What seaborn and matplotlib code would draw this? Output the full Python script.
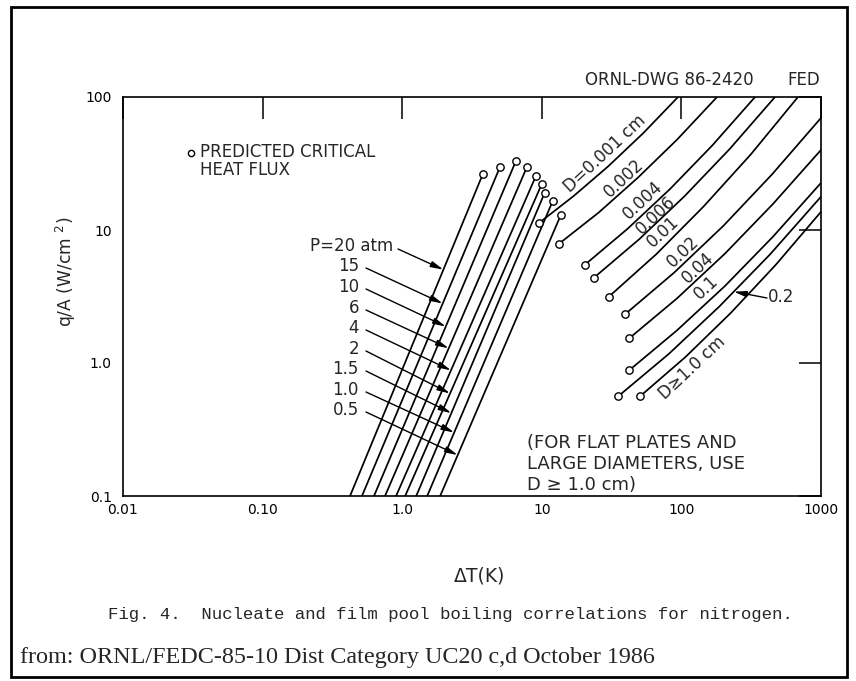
import matplotlib
matplotlib.use('Agg')
import numpy as np
import pandas as pd
import matplotlib.pyplot as plt
import seaborn as sns
from matplotlib.patches import Rectangle
from matplotlib.lines import Line2D
from matplotlib.ticker import FixedLocator, FixedFormatter, NullLocator

W, H = 856, 681

# nucleate boiling: one straight line per pressure (atm)
pressures = ['20', '15', '10', '6', '4', '2', '1.5', '1.0', '0.5']
nuc_dt_low = [0.423, 0.515, 0.628, 0.753, 0.904, 1.05, 1.26, 1.51, 1.87]  # dT at q/A = 0.1
nuc_q_low = 0.1
chf_dt = [3.79, 5.02, 6.53, 7.83, 9.08, 10.0, 10.5, 12.0, 13.7]
chf_q = [26.5, 29.8, 33.1, 29.8, 25.5, 22.2, 19.1, 16.6, 13.0]
arrow_q = [5.03, 2.80, 1.88, 1.29, 0.88, 0.59, 0.42, 0.30, 0.203]

# film boiling: one curve per diameter (cm)
film_labels = ['0.001', '0.002', '0.004', '0.006', '0.01', '0.02', '0.04', '0.1', '0.2', '1.0']
film_dt = [
    [9.55, 16.9, 30.0, 53.3, 94.6],
    [13.3, 25.5, 48.9, 93.8, 180],
    [20.4, 41.1, 82.8, 167, 337],
    [23.7, 49.9, 105, 222, 468],
    [30.3, 66.1, 144, 314, 684],
    [39.4, 88.5, 199, 446, 1000],
    [42.2, 93.0, 205, 453, 1000],
    [42.2, 93.0, 205, 453, 1000],
    [35.2, 81.2, 187, 433, 1000],
    [50.5, 107, 225, 474, 1000],
]
film_q = [
    [11.3, 18.0, 30.2, 53.5, 100],
    [7.89, 13.5, 24.8, 48.2, 100],
    [5.49, 10.2, 20.3, 43.4, 100],
    [4.39, 8.53, 17.9, 40.7, 100],
    [3.16, 6.58, 15.0, 37.0, 100],
    [2.32, 4.77, 10.7, 26.2, 69.6],
    [1.53, 3.06, 6.64, 15.7, 40.0],
    [0.88, 1.76, 3.79, 8.91, 22.6],
    [0.561, 1.17, 2.66, 6.58, 17.8],
    [0.561, 1.11, 2.37, 5.47, 13.7],
]
arrow_q_02 = 3.44  # where the "0.2" arrow meets its curve

x_ticks = [0.01, 0.1, 1, 10, 100, 1000]
x_ticklabels = ['0.01', '0.10', '1.0', '10', '100', '1000']
y_ticks = [0.1, 1, 10, 100]
y_ticklabels = ['0.1', '1.0', '10', '100']


def fxy(px, py):
    # pixel position -> figure fraction
    return px / W, 1 - py / H


rows = []
for p, d0, d1, q1 in zip(pressures, nuc_dt_low, chf_dt, chf_q):
    rows.append(('P' + p, d0, nuc_q_low))
    rows.append(('P' + p, d1, q1))
for lab, dts, qs in zip(film_labels, film_dt, film_q):
    for d, q in zip(dts, qs):
        rows.append(('D' + lab, d, q))
df = pd.DataFrame(rows, columns=['curve', 'dT', 'q'])

circles = pd.DataFrame({
    'dT': chf_dt + [d[0] for d in film_dt],
    'q': chf_q + [q[0] for q in film_q],
})

sns.set_style('white')
plt.rcParams['font.family'] = ['DejaVu Sans']

fig = plt.figure(figsize=(W / 100, H / 100), dpi=100)
ax = fig.add_axes([123 / W, 1 - 496 / H, 698 / W, 399 / H])
ax.set_xscale('log')
ax.set_yscale('log')

sns.lineplot(data=df, x='dT', y='q', units='curve', estimator=None, sort=False,
             color='black', lw=1.25, ax=ax)
sns.scatterplot(data=circles, x='dT', y='q', marker='o', s=28, color='white',
                edgecolor='black', linewidth=1.0, zorder=4, ax=ax)

ax.set_xlim(0.01, 1000)
ax.set_ylim(0.1, 100)
ax.xaxis.set_major_locator(FixedLocator(x_ticks))
ax.xaxis.set_major_formatter(FixedFormatter(x_ticklabels))
ax.yaxis.set_major_locator(FixedLocator(y_ticks))
ax.yaxis.set_major_formatter(FixedFormatter(y_ticklabels))
ax.xaxis.set_minor_locator(NullLocator())
ax.yaxis.set_minor_locator(NullLocator())
ax.tick_params(direction='in', length=15.5, width=1.1, top=True, right=True,
               labelsize=10, colors='black')
ax.tick_params(axis='x', pad=5)
ax.tick_params(axis='y', pad=8)
for s in ax.spines.values():
    s.set_linewidth(1.2)
    s.set_color('black')

ax.set_xlabel('ΔT(K)', fontsize=13.5)
ax.xaxis.set_label_coords(0.511, -0.176)
ax.set_ylabel('q/A (W/cm $^{2}$)', fontsize=12.3, labelpad=0)
ax.yaxis.set_label_coords(-0.064, 0.563)

# legend for circles
fig.add_artist(Line2D([191 / W], [1 - 153 / H], marker='o', ms=4.5, mfc='white',
                      mec='black', mew=1, transform=fig.transFigure))
fig.text(*fxy(200, 161), 'PREDICTED CRITICAL\nHEAT FLUX', fontsize=12,
         ha='left', va='center', linespacing=0.95)

# pressure labels and arrows onto the nucleate lines
label_y = [246, 266, 287, 308, 328, 349, 369, 390, 410]
head = '-|>,head_length=0.75,head_width=0.18'
for i, p in enumerate(pressures):
    frac = (np.log10(arrow_q[i]) - np.log10(nuc_q_low)) / (np.log10(chf_q[i]) - np.log10(nuc_q_low))
    tip_dt = 10 ** (np.log10(nuc_dt_low[i]) + frac * (np.log10(chf_dt[i]) - np.log10(nuc_dt_low[i])))
    if i == 0:
        fig.text(*fxy(310, label_y[i]), 'P=20 atm', fontsize=12, ha='left', va='center')
        tail = fxy(398, label_y[i] + 3)
    else:
        fig.text(*fxy(359, label_y[i]), p, fontsize=12, ha='right', va='center')
        tail = fxy(366, label_y[i] + 2)
    ax.annotate('', xy=(tip_dt, arrow_q[i]), xycoords='data', xytext=tail,
                textcoords='figure fraction',
                arrowprops=dict(arrowstyle=head, color='black', lw=1.0,
                                shrinkA=0, shrinkB=0))

# diameter labels along the film boiling curves
d_text = [('D=0.001 cm', 605, 154), ('0.002', 624, 178), ('0.004', 643, 200),
          ('0.006', 656, 215), ('0.01', 663, 232), ('0.02', 683, 252),
          ('0.04', 698, 268), ('0.1', 706, 287), ('D≥1.0 cm', 692, 368)]
for t, px, py in d_text:
    fig.text(*fxy(px, py), t, fontsize=12, rotation=43, rotation_mode='anchor',
             ha='center', va='center')

# "0.2" label with arrow onto its curve
lq = np.log10(film_q[8])
ld = np.log10(film_dt[8])
tip02 = 10 ** np.interp(np.log10(arrow_q_02), lq, ld)
fig.text(*fxy(768, 297), '0.2', fontsize=12, ha='left', va='center')
ax.annotate('', xy=(tip02, arrow_q_02), xycoords='data', xytext=fxy(767, 298),
            textcoords='figure fraction',
            arrowprops=dict(arrowstyle=head, color='black', lw=1.0, shrinkA=0, shrinkB=0))

fig.text(*fxy(527, 464), '(FOR FLAT PLATES AND\nLARGE DIAMETERS, USE\nD ≥ 1.0 cm)',
         fontsize=13, ha='left', va='center', linespacing=1.18)

fig.text(*fxy(585, 80), 'ORNL-DWG 86-2420', fontsize=12, ha='left', va='center')
fig.text(*fxy(820, 80), 'FED', fontsize=12, ha='right', va='center')

fig.text(*fxy(108, 614), 'Fig. 4.  Nucleate and film pool boiling correlations for nitrogen.',
         family='Liberation Mono', fontsize=12.5, ha='left', va='center')
fig.text(*fxy(20, 658), 'from: ORNL/FEDC-85-10 Dist Category UC20 c,d October 1986',
         family='Liberation Serif', fontsize=17.4, ha='left', va='center')

fig.add_artist(Rectangle((11 / W, 1 - 677 / H), 836 / W, 670 / H, transform=fig.transFigure,
                         fill=False, lw=2, edgecolor='black'))

fig.savefig('out.png', dpi=100)
